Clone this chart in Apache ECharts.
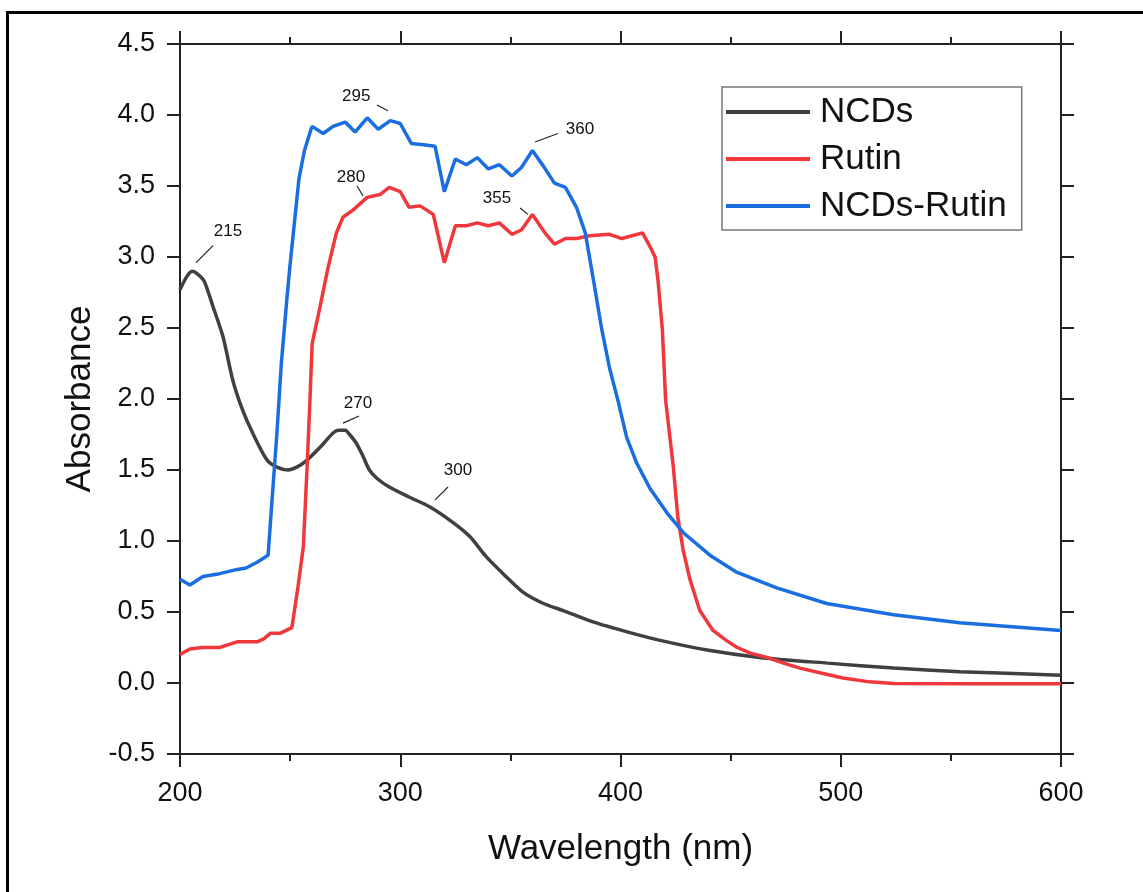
<!DOCTYPE html>
<html>
<head>
<meta charset="utf-8">
<script src="https://cdn.jsdelivr.net/npm/echarts@6/dist/echarts.min.js"></script>
<style>html,body{margin:0;padding:0;background:#fff;}#c{width:1143px;height:892px;}</style>
</head>
<body>
<div id="c"></div>
<script>
const seriesNames = ['NCDs', 'Rutin', 'NCDs-Rutin'];
const xTicks = [200, 300, 400, 500, 600];
const yTicks = [-0.5, 0, 0.5, 1, 1.5, 2, 2.5, 3, 3.5, 4, 4.5];

const ncdsX = [200, 203, 205.5, 208, 211, 215, 219.5, 224, 228, 233, 239.5, 244, 249, 253, 257.7, 263.6, 269.5, 272, 275, 277, 280, 283, 286, 289.5, 295, 304, 313.5, 324, 331.7, 339, 346.7, 355.7, 365, 374, 387.5, 403, 418, 440, 463, 494, 524, 554, 600];
const ncdsY = [2.77, 2.86, 2.90, 2.88, 2.83, 2.65, 2.44, 2.13, 1.94, 1.76, 1.57, 1.52, 1.50, 1.52, 1.57, 1.66, 1.76, 1.78, 1.78, 1.75, 1.69, 1.60, 1.50, 1.44, 1.38, 1.31, 1.24, 1.13, 1.03, 0.89, 0.77, 0.64, 0.56, 0.51, 0.43, 0.36, 0.30, 0.23, 0.18, 0.14, 0.105, 0.08, 0.055];

const rutinX = [200, 204.5, 210, 218, 222, 226, 235, 238, 241, 245.4, 250.8, 253.6, 256, 257.7, 259, 260, 263.6, 267, 271, 274, 278.5, 285, 290.8, 295, 300, 304, 309, 315, 320, 325, 330, 335, 340, 345, 350.7, 355, 360, 365.7, 370, 375, 380, 386, 395, 400.6, 410, 413.5, 415.7, 417, 419, 420.5, 424, 426, 428.4, 431.5, 436, 442, 448, 453, 459, 466.5, 474, 481.5, 491, 501, 513, 524, 560, 600];
const rutinY = [0.20, 0.24, 0.25, 0.25, 0.27, 0.29, 0.29, 0.31, 0.35, 0.35, 0.39, 0.68, 0.96, 1.52, 1.99, 2.39, 2.65, 2.91, 3.17, 3.28, 3.33, 3.42, 3.44, 3.49, 3.46, 3.35, 3.36, 3.30, 2.96, 3.22, 3.22, 3.24, 3.22, 3.24, 3.16, 3.19, 3.30, 3.17, 3.09, 3.13, 3.13, 3.15, 3.16, 3.13, 3.17, 3.07, 3.00, 2.84, 2.49, 1.99, 1.52, 1.17, 0.94, 0.73, 0.51, 0.37, 0.30, 0.25, 0.21, 0.18, 0.14, 0.105, 0.07, 0.035, 0.008, -0.003, -0.005, -0.005];

const blueX = [200, 204.5, 210.4, 218, 226, 230, 235, 240, 241.8, 244, 246, 248.5, 250, 252, 254, 256.5, 259.5, 260, 265, 269.5, 275, 279.5, 285, 290, 295.5, 300, 305, 310.5, 315.8, 320, 325, 330, 335, 340, 345, 350.7, 355, 360, 365, 370, 375, 380, 384, 387.7, 391.5, 395, 399, 402.8, 407.3, 413.4, 421, 428.4, 440.6, 452.7, 470.9, 493.6, 524, 554, 600];
const blueY = [0.73, 0.69, 0.75, 0.77, 0.80, 0.81, 0.85, 0.90, 1.29, 1.76, 2.25, 2.70, 2.95, 3.25, 3.55, 3.75, 3.90, 3.92, 3.87, 3.92, 3.95, 3.88, 3.98, 3.90, 3.96, 3.94, 3.80, 3.79, 3.78, 3.46, 3.69, 3.65, 3.70, 3.62, 3.65, 3.57, 3.63, 3.75, 3.64, 3.52, 3.49, 3.35, 3.17, 2.84, 2.49, 2.22, 1.98, 1.73, 1.55, 1.37, 1.20, 1.06, 0.90, 0.78, 0.67, 0.56, 0.48, 0.425, 0.37];

// peak annotations: label, label anchor (nm, abs), leader start, leader end
const annotLabels = ['215', '270', '300', '280', '295', '355', '360'];
const annotText = [[221.8, 3.18], [280.8, 1.97], [326.2, 1.50], [277.6, 3.56], [280, 4.13], [343.9, 3.41], [381.6, 3.90]];
const annotFrom = [[207.3, 2.96], [274, 1.83], [315.8, 1.29], [280.4, 3.50], [289.4, 4.07], [354.4, 3.345], [361.2, 3.81]];
const annotTo = [[215, 3.08], [281.3, 1.88], [321.7, 1.38], [283.1, 3.43], [294.4, 4.03], [358, 3.30], [371.6, 3.87]];

const colors = ['#404040', '#f0383c', '#1a6ee0'];
const zip = (xs, ys) => xs.map((x, i) => [x, ys[i]]);
const FONT = '"Liberation Sans", Arial, sans-serif';

const chart = echarts.init(document.getElementById('c'), null, {renderer: 'canvas'});

const axisCommon = {
  type: 'value',
  axisLine: {show: true, onZero: false, lineStyle: {color: '#222', width: 2}},
  axisTick: {show: true, inside: false, length: 13, lineStyle: {color: '#222', width: 2}},
  splitLine: {show: false}
};

const lines = seriesNames.map((name, i) => ({
  name: name,
  type: 'line',
  data: [zip(ncdsX, ncdsY), zip(rutinX, rutinY), zip(blueX, blueY)][i],
  showSymbol: false,
  symbol: 'none',
  smooth: i === 0 ? 0.25 : false,
  lineStyle: {color: colors[i], width: 3.5},
  itemStyle: {color: colors[i]},
  emphasis: {disabled: true},
  z: 3 + i,
  animation: false
}));

lines[0].markLine = {
  silent: true,
  symbol: ['none', 'none'],
  animation: false,
  label: {show: false},
  lineStyle: {color: '#222', width: 1.2, type: 'solid'},
  emphasis: {disabled: true},
  data: annotFrom.map((f, i) => [{coord: f}, {coord: annotTo[i]}])
};
lines[0].markPoint = {
  silent: true,
  animation: false,
  symbol: 'circle',
  symbolSize: 0,
  itemStyle: {color: 'rgba(0,0,0,0)'},
  label: {show: true, position: 'inside', formatter: p => p.name, color: '#111', fontSize: 17, fontFamily: FONT},
  data: annotLabels.map((l, i) => ({name: l, coord: annotText[i]}))
};

chart.setOption({
  animation: false,
  backgroundColor: '#fff',
  grid: {left: 180, right: 82, top: 44, bottom: 138, containLabel: false},
  graphic: [{
    type: 'rect', left: 5, top: 10, silent: true,
    shape: {x: 0, y: 0, width: 1160, height: 900},
    style: {fill: 'none', stroke: '#000', lineWidth: 3}
  }],
  legend: {
    data: seriesNames,
    left: 722, top: 87,
    orient: 'vertical',
    icon: 'rect',
    itemWidth: 84, itemHeight: 4,
    itemGap: 7,
    padding: [5, 15, 4, 4],
    borderColor: '#777', borderWidth: 1.5,
    backgroundColor: '#fff',
    textStyle: {fontSize: 35, fontFamily: FONT, color: '#111', lineHeight: 40, padding: [0, 0, 0, 5]}
  },
  xAxis: [
    Object.assign({}, axisCommon, {
      position: 'bottom', min: 200, max: 600, interval: 100,
      name: 'Wavelength (nm)', nameLocation: 'middle', nameGap: 78,
      nameTextStyle: {fontSize: 35, fontFamily: FONT, color: '#111'},
      axisLabel: {show: true, fontSize: 27, fontFamily: FONT, color: '#111', margin: 26,
        formatter: v => xTicks.includes(v) ? String(v) : ''},
      minorTick: {show: true, splitNumber: 2, length: 7, lineStyle: {color: '#222', width: 2}}
    }),
    Object.assign({}, axisCommon, {
      position: 'top', min: 200, max: 600, interval: 100,
      axisLabel: {show: false},
      minorTick: {show: true, splitNumber: 2, length: 7, lineStyle: {color: '#222', width: 2}}
    })
  ],
  yAxis: [
    Object.assign({}, axisCommon, {
      position: 'left', min: -0.5, max: 4.5, interval: 0.5,
      name: 'Absorbance', nameLocation: 'middle', nameGap: 82,
      nameTextStyle: {fontSize: 35, fontFamily: FONT, color: '#111'},
      axisLabel: {show: true, fontSize: 27, fontFamily: FONT, color: '#111', margin: 25,
        formatter: v => yTicks.some(t => Math.abs(t - v) < 1e-9) ? v.toFixed(1) : ''}
    }),
    Object.assign({}, axisCommon, {
      position: 'right', min: -0.5, max: 4.5, interval: 0.5,
      axisLabel: {show: false}
    })
  ],
  series: lines
});
</script>
</body>
</html>
